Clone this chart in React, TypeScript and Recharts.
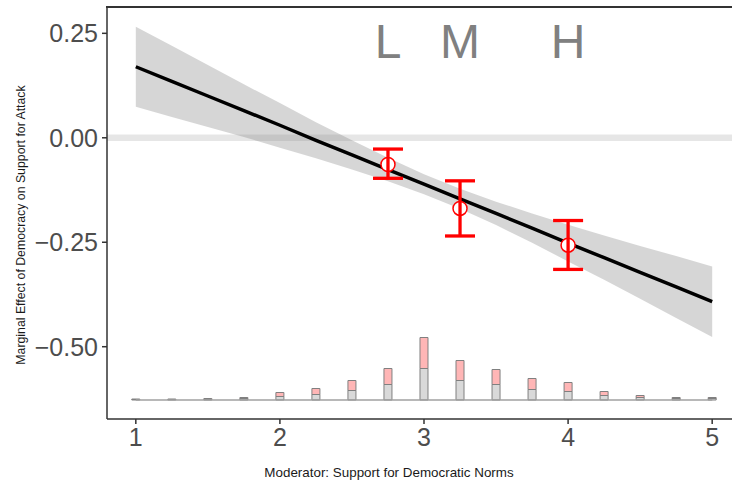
import {
  ComposedChart,
  XAxis,
  YAxis,
  Area,
  Line,
  Bar,
  Scatter,
  ErrorBar,
  ReferenceLine,
  Label,
} from 'recharts';

const FONT = '"Liberation Sans", Arial, Helvetica, sans-serif';

// moderator grid where the fitted effect and histogram are evaluated
const moderatorGrid = [1, 1.25, 1.5, 1.75, 2, 2.25, 2.5, 2.75, 3, 3.25, 3.5, 3.75, 4, 4.25, 4.5, 4.75, 5];
const effectFit = [
  0.17, 0.135, 0.1, 0.065, 0.03, -0.006, -0.041, -0.076, -0.111, -0.146, -0.181, -0.216, -0.252, -0.287,
  -0.322, -0.357, -0.392,
];
const ciLower = [
  0.074, 0.05, 0.026, 0.002, -0.024, -0.049, -0.076, -0.104, -0.135, -0.17, -0.209, -0.251, -0.296, -0.34,
  -0.385, -0.431, -0.477,
];
const ciUpper = [
  0.266, 0.22, 0.174, 0.128, 0.083, 0.037, -0.006, -0.048, -0.087, -0.122, -0.153, -0.181, -0.208, -0.234,
  -0.259, -0.283, -0.308,
];
const histControl = [1, 1, 1, 3, 7, 11, 19, 31, 63, 39, 31, 21, 17, 9, 5, 3, 3];
const histTreated = [1, 1, 2, 2, 8, 12, 20, 32, 62, 40, 30, 22, 18, 8, 4, 2, 2];

// binning estimates
const binLabels = ['L', 'M', 'H'];
const binX = [2.75, 3.25, 4];
const binCoef = [-0.064, -0.169, -0.257];
const binLower = [-0.097, -0.235, -0.315];
const binUpper = [-0.027, -0.103, -0.198];
const binLabelY = 0.191;

const xTicks = [1, 2, 3, 4, 5];
const yTicks = [-0.5, -0.25, 0, 0.25];
const X_DOMAIN: [number, number] = [0.8, 5.2];
const Y_DOMAIN: [number, number] = [-0.673, 0.313];

const rows = moderatorGrid.map((x, i) => ({
  x,
  fit: effectFit[i],
  band: [ciLower[i], ciUpper[i]],
  control: histControl[i],
  treated: histTreated[i],
}));

const binPoints = binX.map((x, i) => ({
  x,
  coef: binCoef[i],
  err: [binCoef[i] - binLower[i], binUpper[i] - binCoef[i]],
}));

const tierLabels = binX.map((x, i) => ({ x, y: binLabelY, text: binLabels[i] }));

const fmtY = (v: number) => v.toFixed(2).replace('-', '\u2212');

const RED = '#ff0000';
const POINT_R = 7;
const PLOT_LEFT = 107;
const PLOT_TOP = 7;

// white-filled point; the error bar's stem still shows through it
function BinPoint(props: any) {
  const { cx, cy } = props;
  return (
    <g>
      <circle cx={cx} cy={cy} r={POINT_R} fill="#fff" stroke={RED} strokeWidth={1.5} />
      <line x1={cx} x2={cx} y1={cy - POINT_R} y2={cy + POINT_R} stroke={RED} strokeWidth={3.3} />
    </g>
  );
}

function TierText(props: any) {
  const { cx, cy, payload } = props;
  return (
    <text x={cx} y={cy} textAnchor="middle" fontSize={48} fill="#808080" fontFamily={FONT}>
      {payload.text}
    </text>
  );
}

const axisStroke = '#333333';
const tickStyle = { fontSize: 25, fill: '#4d4d4d', fontFamily: FONT };

export default function App() {
  return (
    <div style={{ position: 'absolute', left: 0, top: 0, width: 732, height: 485, overflow: 'hidden', background: '#fff' }}>
      <ComposedChart
        width={760}
        height={485}
        data={rows}
        margin={{ top: PLOT_TOP, right: 19, bottom: 36, left: 0 }}
        style={{ fontFamily: FONT }}
      >
        <XAxis
          dataKey="x"
          type="number"
          domain={X_DOMAIN}
          ticks={xTicks}
          allowDataOverflow
          height={30}
          tickSize={5}
          tickMargin={4}
          stroke={axisStroke}
          strokeWidth={1.5}
          tick={tickStyle}
        >
          <Label
            content={() => (
              <text x={389} y={477} textAnchor="middle" fontSize={13.4} fill="#1a1a1a" fontFamily={FONT}>
                Moderator: Support for Democratic Norms
              </text>
            )}
          />
        </XAxis>
        <YAxis
          type="number"
          domain={Y_DOMAIN}
          ticks={yTicks}
          allowDataOverflow
          width={PLOT_LEFT}
          tickSize={5}
          tickMargin={4}
          tickFormatter={fmtY}
          stroke={axisStroke}
          strokeWidth={1.5}
          tick={tickStyle}
        >
          <Label
            content={() => (
              <text
                x={21}
                y={225}
                transform="rotate(-90, 21, 225)"
                textAnchor="middle"
                dominantBaseline="central"
                fontSize={12.3}
                fill="#1a1a1a"
                fontFamily={FONT}
              >
                Marginal Effect of Democracy on Support for Attack
              </text>
            )}
          />
        </YAxis>
        <YAxis yAxisId="hist" hide type="number" domain={[-38, 786]} allowDataOverflow />

        <ReferenceLine y={0} stroke="#808080" strokeOpacity={0.2} strokeWidth={6.5} />
        <ReferenceLine
          yAxisId="hist"
          segment={[
            { x: 1, y: 0 },
            { x: 5, y: 0 },
          ]}
          stroke="#a0a0a0"
          strokeWidth={1.5}
        />
        <Bar
          yAxisId="hist"
          dataKey="control"
          stackId="h"
          barSize={8}
          fill="#d9d9d9"
          stroke="#808080"
          strokeWidth={1}
          isAnimationActive={false}
        />
        <Bar
          yAxisId="hist"
          dataKey="treated"
          stackId="h"
          barSize={8}
          fill="#ffb6b6"
          stroke="#808080"
          strokeWidth={1}
          isAnimationActive={false}
        />
        <Area dataKey="band" stroke="none" fill="#808080" fillOpacity={0.32} isAnimationActive={false} />
        <Line
          dataKey="fit"
          stroke="#000"
          strokeWidth={3.5}
          dot={false}
          activeDot={false}
          isAnimationActive={false}
        />
        <Scatter data={binPoints} dataKey="coef" shape={BinPoint} isAnimationActive={false}>
          <ErrorBar dataKey="err" direction="y" width={15} stroke={RED} strokeWidth={3.3} />
        </Scatter>
        <Scatter data={tierLabels} dataKey="y" shape={TierText} isAnimationActive={false} />
      </ComposedChart>
      {/* top edge of the panel border */}
      <div
        style={{
          position: 'absolute',
          left: PLOT_LEFT - 0.75,
          top: PLOT_TOP - 0.75,
          right: 0,
          height: 1.5,
          background: axisStroke,
        }}
      />
    </div>
  );
}
